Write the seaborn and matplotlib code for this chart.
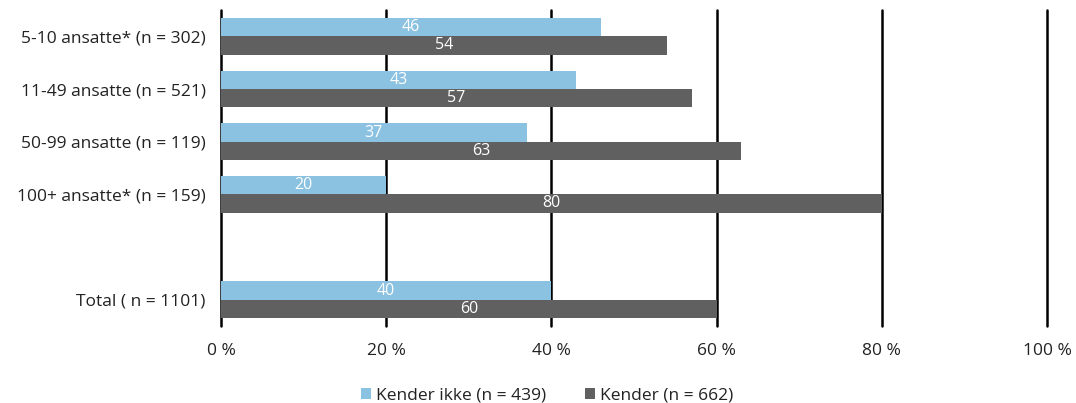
import matplotlib
matplotlib.use("Agg")
import matplotlib.pyplot as plt
import seaborn as sns
import pandas as pd

categories = ["5-10 ansatte* (n = 302)", "11-49 ansatte (n = 521)",
              "50-99 ansatte (n = 119)", "100+ ansatte* (n = 159)",
              "Total ( n = 1101)"]
kender_ikke = [46, 43, 37, 20, 40]
kender = [54, 57, 63, 80, 60]
series_names = ["Kender ikke (n = 439)", "Kender (n = 662)"]
x_ticks = [0, 20, 40, 60, 80, 100]
x_ticklabels = ["0 %", "20 %", "40 %", "60 %", "80 %", "100 %"]

order = categories[:4] + [" "] + categories[4:]

rows = []
for c, a, b in zip(categories, kender_ikke, kender):
    rows.append({"cat": c, "serie": series_names[0], "val": a})
    rows.append({"cat": c, "serie": series_names[1], "val": b})
df = pd.DataFrame(rows)

sns.set_theme(style="white")
plt.rcParams["font.family"] = ["Open Sans", "DejaVu Sans"]

fig = plt.figure(figsize=(10.76, 4.03), dpi=100)
ax = fig.add_axes([221/1076, 1 - 326/403, (1047-221)/1076, (326-10)/403])

palette = ["#8CC2E1", "#606060"]
sns.barplot(data=df, y="cat", x="val", hue="serie", order=order,
            hue_order=series_names, palette=palette, orient="h",
            width=0.69, saturation=1, ax=ax, errorbar=None, legend=True,
            linewidth=0)

for cont in ax.containers:
    ax.bar_label(cont, label_type="center", color="white", fontsize=11.5)

ax.set_xlim(0, 100)
ax.set_ylim(5.5, -0.5)
ax.set_xticks(x_ticks)
ax.set_xticklabels(x_ticklabels, fontsize=12.5, color="#222222")
ax.tick_params(axis="y", labelsize=12.5, labelcolor="#222222", length=0, pad=11)
ax.tick_params(axis="x", length=0, pad=12)
ax.set_xlabel("")
ax.set_ylabel("")
for s in ax.spines.values():
    s.set_visible(False)
ax.set_axisbelow(True)
ax.xaxis.grid(True, color="black", linewidth=1.8)
for line in ax.get_xgridlines():
    line.set_clip_on(False)

handles, labels = ax.get_legend_handles_labels()
ax.get_legend().remove()
leg = fig.legend(handles, labels, loc="center", bbox_to_anchor=(547/1076, 1 - 396/403),
                 ncol=2, frameon=False, fontsize=12.5, handlelength=0.6, handleheight=0.6,
                 columnspacing=2.2, handletextpad=0.3)
for t in leg.get_texts():
    t.set_color("#222222")

fig.savefig("out.png", dpi=100)
